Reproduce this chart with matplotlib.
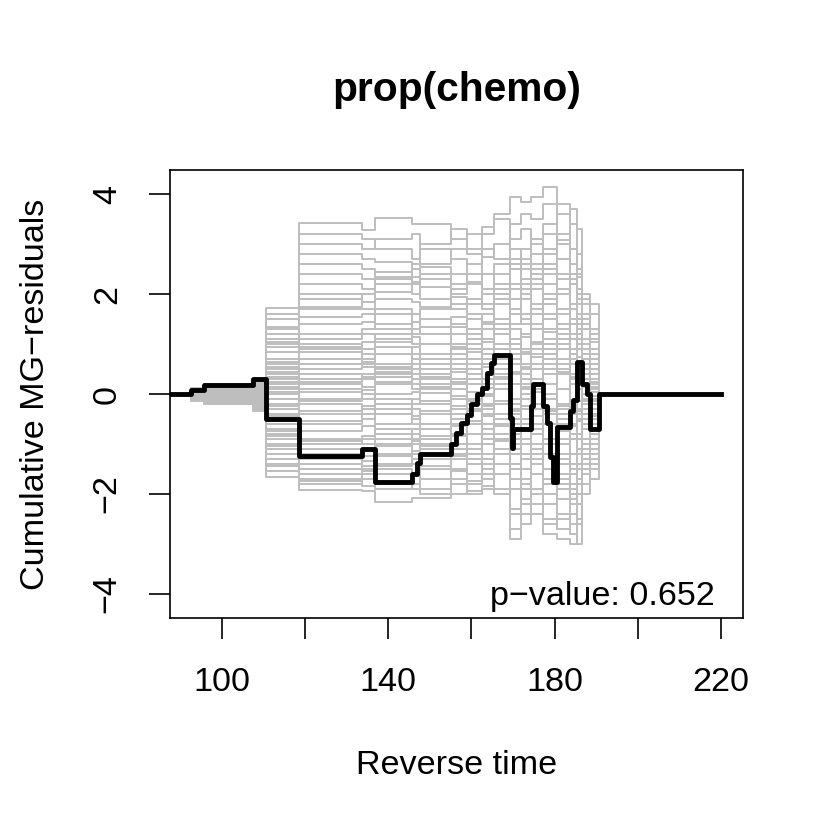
import numpy as np
import matplotlib
matplotlib.use("Agg")
import matplotlib.pyplot as plt

plt.rcParams['font.family'] = ['Liberation Sans', 'DejaVu Sans']

# observed cumulative martingale residual process (step function, value after each jump)
obs_t = [87.5, 92.5, 95.7, 107.5, 110.6, 118.5, 133.6, 136.8, 145.8, 146.8, 147.6,
         155.0, 156.3, 157.6, 159.0, 160.0, 161.4, 162.5, 163.7, 164.6, 165.3,
         169.3, 169.7, 170.1, 174.2, 174.9, 177.3, 178.1, 178.9, 179.7, 180.5,
         183.7, 184.3, 185.3, 186.5, 187.9, 188.5, 190.7, 220.0]
obs_v = [0.0, 0.09, 0.18, 0.31, -0.50, -1.24, -1.10, -1.76, -1.60, -1.38, -1.20,
         -1.00, -0.79, -0.59, -0.42, -0.20, 0.01, 0.13, 0.43, 0.62, 0.78,
         -0.49, -1.09, -0.71, -0.25, 0.20, -0.25, -0.59, -1.26, -1.76, -0.67,
         -0.35, -0.13, 0.65, 0.21, 0.01, -0.71, 0.0, 0.0]

# jump times of the simulated processes
sim_t = [92.5, 95.7, 107.5, 110.6, 118.5, 133.6, 136.8, 145.8, 147.6, 155.0, 159.0,
         162.5, 165.3, 169.3, 172.0, 174.2, 177.3, 180.5, 183.7, 185.3, 186.5, 188.5, 190.7]

# simulated paths (value on each interval between jump times)
sims = [
    [0.05, 0.12, 0.25, 1.72, 3.43, 3.29, 3.52, 3.40, 3.40, 3.10, 3.20, 3.35, 3.60, 3.95, 3.85, 3.95, 4.15, 3.09, 2.90, 2.35, 1.50, 1.05],
    [-0.10, -0.18, -0.35, -1.66, -1.92, -1.95, -2.16, -2.08, -2.08, -2.00, -1.95, -1.85, -1.90, -2.90, -2.60, -2.40, -2.80, -2.90, -3.00, -2.50, -2.00, -1.70],
    [0.10, 0.20, 0.31, 1.50, 2.80, 2.70, 2.65, 2.50, 2.55, 2.40, 2.60, 2.75, 3.00, 3.40, 3.60, 3.50, 3.80, 3.60, 3.70, 3.30, 2.00, 1.60],
    [-0.05, -0.15, -0.28, -1.40, -1.70, -1.60, -1.75, -1.80, -1.70, -1.55, -1.75, -1.60, -1.40, -2.30, -2.10, -2.20, -2.50, -2.70, -2.80, -2.20, -1.60, -1.40],
    [0.08, 0.15, 0.20, 1.20, 2.20, 2.10, 2.35, 2.20, 2.30, 2.10, 2.25, 2.40, 2.20, 2.90, 2.70, 3.00, 3.20, 2.70, 2.60, 2.40, 1.80, 1.20],
    [-0.12, -0.10, -0.20, -1.20, -1.50, -1.35, -1.45, -1.30, -1.45, -1.25, -1.30, -1.50, -1.60, -1.90, -1.70, -1.90, -2.20, -2.40, -2.60, -2.00, -1.30, -1.00],
    [0.03, 0.10, 0.18, 1.00, 1.75, 1.70, 1.90, 1.85, 1.75, 1.95, 1.80, 2.00, 2.40, 2.60, 2.30, 2.50, 2.80, 2.40, 2.20, 2.00, 1.40, 0.90],
    [-0.08, -0.05, -0.15, -1.00, -1.20, -1.10, -1.25, -1.15, -1.05, -1.20, -1.00, -1.20, -1.10, -1.50, -1.30, -1.60, -1.80, -1.90, -2.10, -1.70, -1.10, -0.80],
    [0.06, 0.08, 0.12, 0.85, 1.40, 1.45, 1.30, 1.45, 1.50, 1.35, 1.60, 1.45, 1.80, 2.10, 1.90, 2.20, 2.40, 2.00, 1.80, 1.60, 1.10, 0.70],
    [-0.04, -0.12, -0.10, -0.85, -0.95, -0.90, -1.05, -0.95, -1.10, -0.85, -1.10, -0.90, -1.20, -1.20, -1.00, -1.30, -1.50, -1.60, -1.80, -1.40, -0.90, -0.60],
    [0.02, 0.05, 0.08, 0.70, 1.10, 1.20, 1.05, 1.15, 1.00, 1.20, 1.10, 1.30, 1.50, 1.70, 1.50, 1.80, 2.00, 1.70, 1.50, 1.30, 0.90, 0.50],
    [-0.02, -0.08, -0.05, -0.70, -0.75, -0.65, -0.80, -0.70, -0.85, -0.65, -0.80, -0.70, -0.95, -0.90, -0.70, -1.00, -1.20, -1.30, -1.50, -1.10, -0.70, -0.45],
    [0.04, 0.02, 0.05, 0.55, 0.85, 0.90, 0.80, 0.95, 0.80, 0.95, 0.85, 1.05, 1.20, 1.30, 1.15, 1.40, 1.60, 1.30, 1.20, 1.00, 0.70, 0.40],
    [-0.06, -0.03, -0.02, -0.55, -0.55, -0.50, -0.60, -0.45, -0.60, -0.50, -0.55, -0.45, -0.65, -0.60, -0.50, -0.70, -0.90, -1.00, -1.20, -0.80, -0.50, -0.30],
    [0.01, 0.04, 0.02, 0.40, 0.60, 0.65, 0.55, 0.70, 0.60, 0.70, 0.60, 0.80, 0.90, 1.00, 0.85, 1.05, 1.25, 1.00, 0.90, 0.75, 0.50, 0.25],
    [-0.03, 0.00, -0.08, -0.40, -0.35, -0.30, -0.40, -0.30, -0.35, -0.25, -0.35, -0.25, -0.40, -0.35, -0.25, -0.45, -0.60, -0.75, -0.90, -0.55, -0.30, -0.15],
    [0.00, 0.06, 0.10, 0.25, 0.40, 0.35, 0.45, 0.40, 0.35, 0.45, 0.40, 0.55, 0.60, 0.70, 0.55, 0.75, 0.90, 0.70, 0.60, 0.50, 0.30, 0.15],
    [-0.01, -0.06, -0.12, -0.25, -0.15, -0.10, -0.20, -0.10, -0.15, -0.05, -0.15, -0.05, -0.15, -0.10, 0.00, -0.20, -0.35, -0.50, -0.65, -0.35, -0.15, -0.05],
    [0.07, 0.03, 0.00, 0.10, 0.20, 0.15, 0.25, 0.20, 0.15, 0.25, 0.20, 0.30, 0.35, 0.45, 0.30, 0.50, 0.60, 0.45, 0.35, 0.30, 0.15, 0.05],
    [-0.07, -0.02, 0.04, -0.10, 0.05, 0.08, 0.00, 0.05, 0.02, 0.10, 0.05, 0.12, 0.10, 0.20, 0.15, 0.05, -0.10, -0.25, -0.40, -0.15, 0.00, -0.10],
    [0.09, 0.18, 0.15, 0.30, 2.40, 2.30, 2.45, 2.35, 1.90, 1.70, 1.30, 0.90, 0.40, -0.50, -0.90, -1.40, -1.20, -2.10, -1.60, -0.80, 0.40, 0.80],
    [-0.11, -0.14, -0.22, 0.60, -1.80, -1.70, -1.40, -0.90, -0.60, -0.10, 0.40, 0.90, 1.40, 2.20, 2.60, 2.40, 1.80, 1.20, 0.60, 0.10, -0.60, -0.30],
    [0.12, 0.05, -0.10, -1.30, 0.30, 0.40, 1.10, 1.30, 1.70, 2.20, 2.60, 2.90, 2.70, 1.90, 1.40, 0.80, 0.20, -0.60, -1.20, -1.80, -1.20, -0.90],
    [-0.14, -0.20, 0.05, 1.30, 0.90, 0.70, -0.20, -0.50, -0.90, -1.30, -1.60, -1.40, -0.80, 0.60, 1.20, 1.60, 2.50, 3.00, 3.40, 2.80, 1.60, 1.30],
    [0.03, 0.14, 0.22, 0.00, -0.60, -0.40, 0.60, 0.80, 0.30, -0.40, 0.20, -0.30, -1.40, -2.40, -1.80, -1.10, -0.40, 0.50, 1.10, 2.10, 0.80, 0.30],
    [-0.05, 0.09, -0.25, -0.90, 1.90, 2.00, 1.60, 1.00, 0.40, 0.90, -0.10, -0.70, -0.20, 1.10, 0.50, -0.20, -1.00, -1.80, -2.40, -3.00, -1.50, -1.10],
    [0.11, -0.09, 0.28, 0.85, -1.30, -1.50, -1.90, -1.60, -1.90, -1.70, -1.30, -0.60, 0.10, 0.90, 0.20, 0.60, 1.30, 2.10, 2.40, 1.40, 0.20, -0.20],
    [-0.09, 0.11, -0.30, -0.30, 3.00, 2.90, 3.10, 3.20, 2.90, 2.70, 2.40, 2.10, 2.60, 3.10, 3.30, 2.60, 2.20, 1.40, 0.60, -0.30, 1.00, 1.80],
    [0.06, -0.16, 0.00, 1.10, 0.10, 0.00, -0.70, -1.20, -1.50, -1.80, -2.00, -1.90, -1.60, -2.70, -2.40, -2.00, -2.60, -1.70, -0.90, 0.50, 1.90, 1.20],
    [-0.13, 0.19, 0.12, -1.55, -0.90, -1.00, -1.50, -1.80, -1.20, -0.60, 0.50, 1.40, 1.90, 1.40, 2.10, 2.80, 3.40, 3.80, 2.60, 1.80, -0.60, -1.50],
    [0.02, -0.04, 0.14, 0.45, 1.55, 1.60, 1.40, 1.20, 1.35, 1.55, 1.90, 1.70, 1.30, 0.80, 1.20, 1.70, 1.10, 0.60, 1.40, 0.90, 0.30, 0.50],
    [-0.03, 0.07, -0.18, -0.60, -1.10, -1.25, -0.60, -0.30, -0.70, -1.00, -0.60, -0.20, 0.50, -0.40, -1.20, -0.80, -2.00, -1.40, -0.60, -1.20, -0.40, -0.80],
    [0.05, 0.10, -0.05, 0.95, 2.60, 2.50, 2.20, 2.00, 2.15, 1.80, 1.50, 1.60, 1.00, 1.60, 2.00, 1.30, 0.80, 0.10, 0.70, 1.50, 0.60, 0.20],
    [-0.06, -0.11, 0.09, -1.05, 0.70, 0.55, 0.95, 0.70, 0.50, 0.30, 0.70, 1.10, 0.70, -0.20, 0.40, -0.60, 0.00, 0.90, -0.30, -0.90, -1.40, -0.70],
    [0.04, 0.16, 0.26, 1.60, 0.50, 0.60, 0.20, 0.40, 0.70, 0.50, 0.90, 0.60, 0.20, -0.80, -0.30, 0.30, -0.60, -1.20, -2.00, -1.40, -0.20, 0.60],
    [-0.08, -0.01, -0.16, 0.20, -1.60, -1.45, -1.20, -1.40, -1.30, -1.10, -0.80, -1.00, -0.40, 0.40, -0.10, 0.90, 0.50, 1.10, 1.80, 1.10, 0.50, -0.40],
    [0.01, 0.12, 0.06, -0.20, 1.20, 1.30, 1.70, 1.60, 1.20, 1.00, 0.70, 0.30, -0.20, 0.60, 0.90, 0.30, 1.50, 2.30, 1.70, 2.50, 1.30, 0.40],
    [-0.02, -0.09, -0.32, -1.45, -0.40, -0.25, 0.35, 0.10, -0.20, 0.30, -0.30, -0.80, -1.20, -1.70, -2.20, -1.60, -1.00, -0.30, 0.30, -0.50, -1.80, -1.20],
    [0.08, 0.01, 0.19, 0.65, 2.00, 1.85, 2.05, 2.25, 2.60, 2.90, 2.80, 2.40, 2.00, 2.50, 1.60, 2.10, 2.90, 3.20, 2.30, 1.20, 0.80, 0.90],
    [-0.09, -0.13, 0.02, -0.75, -1.40, -1.55, -1.00, -0.80, -0.40, -0.80, -1.40, -1.70, -2.00, -1.10, -0.60, -1.20, -1.70, -2.50, -1.90, -2.60, -0.90, -0.50],
    [0.03, 0.02, -0.12, 0.15, 0.70, 0.80, 0.40, 0.60, 1.00, 1.40, 1.20, 0.60, 1.00, 0.20, -0.60, 0.10, 0.70, -0.20, -0.80, 0.30, 1.00, 0.10],
    [-0.04, 0.13, 0.20, 1.05, -0.20, -0.30, -0.90, -1.00, -0.70, -0.30, -0.80, -0.40, 0.30, 1.30, 0.80, 0.20, -0.30, 0.40, 1.20, 0.60, -0.10, 0.40],
    [0.06, -0.07, -0.08, -0.45, 0.95, 1.05, 0.80, 0.50, 0.20, 0.60, 1.00, 1.60, 2.10, 2.70, 2.20, 1.60, 1.00, 1.60, 0.90, 0.20, 0.70, 1.10],
    [-0.01, 0.03, 0.11, 0.50, -1.00, -0.85, -0.30, -0.60, -1.00, -1.50, -1.20, -0.90, -0.60, -1.40, -1.90, -2.40, -1.50, -0.90, -1.40, -2.00, -1.00, -0.30],
    [0.10, 0.07, 0.03, 1.35, 3.20, 3.10, 2.90, 2.70, 2.40, 2.00, 2.20, 1.80, 1.40, 1.00, 0.30, -0.30, 0.40, -0.40, 0.20, 0.90, 1.30, 0.70],
    [-0.12, -0.04, -0.19, -1.10, -0.10, 0.00, 0.50, 0.30, 0.60, 0.20, -0.20, 0.20, -0.50, -1.00, -1.50, -0.80, -2.20, -2.70, -2.20, -1.50, -0.70, -1.30],
    [0.00, -0.17, 0.07, 0.05, 1.00, 0.90, 1.20, 1.45, 1.20, 0.80, 0.30, 0.00, 0.70, 1.60, 2.50, 3.10, 2.60, 2.00, 2.90, 1.90, 0.40, -0.10],
    [-0.05, 0.01, -0.14, -0.80, -1.75, -1.85, -1.60, -1.90, -2.00, -1.50, -1.80, -1.30, -0.90, -0.30, 0.60, 0.10, -0.40, -1.00, -0.20, 0.50, -0.30, -0.60],
    [0.07, 0.17, 0.24, 0.35, 0.25, 0.30, -0.10, -0.20, 0.10, 0.60, 1.10, 0.70, 0.50, -0.40, 0.10, 1.00, 2.00, 1.40, 0.80, -0.40, -1.00, -0.90],
    [-0.07, -0.17, -0.26, 1.60, 1.70, 1.85, 2.30, 2.60, 3.00, 3.30, 2.90, 3.20, 3.50, 2.60, 2.90, 2.30, 1.90, 1.00, 0.40, 1.10, 0.30, 0.60],
]

xticks = [100, 120, 140, 160, 180, 200, 220]
xticklabels = ["100", "", "140", "", "180", "", "220"]
yticks = [-4, -2, 0, 2, 4]

fig = plt.figure(figsize=(8.3, 8.3), dpi=100)
ax = fig.add_axes([170/830, 1 - 618/830, 573/830, 448/830])

for path in sims:
    xs = [87.5] + sim_t
    ys = [0.0] + path + [0.0]
    ax.step(xs + [191.5], ys + [0.0], where='post', color='#BEBEBE', lw=1.4)

ax.step(obs_t, obs_v, where='post', color='black', lw=3.5)

ax.set_xlim(87.5, 225.3)
ax.set_ylim(-4.49, 4.49)
ax.set_xticks(xticks)
ax.set_xticklabels(xticklabels)
ax.set_yticks(yticks)
ax.set_yticklabels([str(v).replace('-', '\u2212') for v in yticks], rotation=90, va='center')
ax.tick_params(direction='out', length=15, width=1.2, labelsize=24.6)
ax.tick_params(axis='x', pad=20)
ax.tick_params(axis='y', pad=19)
for s in ax.spines.values():
    s.set_linewidth(1.2)

ax.text(218.6, -4.05, "p\u2212value: 0.652", ha='right', va='center', fontsize=24.6)

fig.text(456.5/830, 1 - 90/830, "prop(chemo)", ha='center', va='center',
         fontsize=29.3, fontweight='bold')
fig.text(456.5/830, 1 - 765/830, "Reverse time", ha='center', va='center', fontsize=24.6)
fig.text(36/830, 1 - 394/830, "Cumulative MG\u2212residuals", ha='center', va='center',
         rotation=90, fontsize=24.6)

fig.savefig("out.png", dpi=100)
